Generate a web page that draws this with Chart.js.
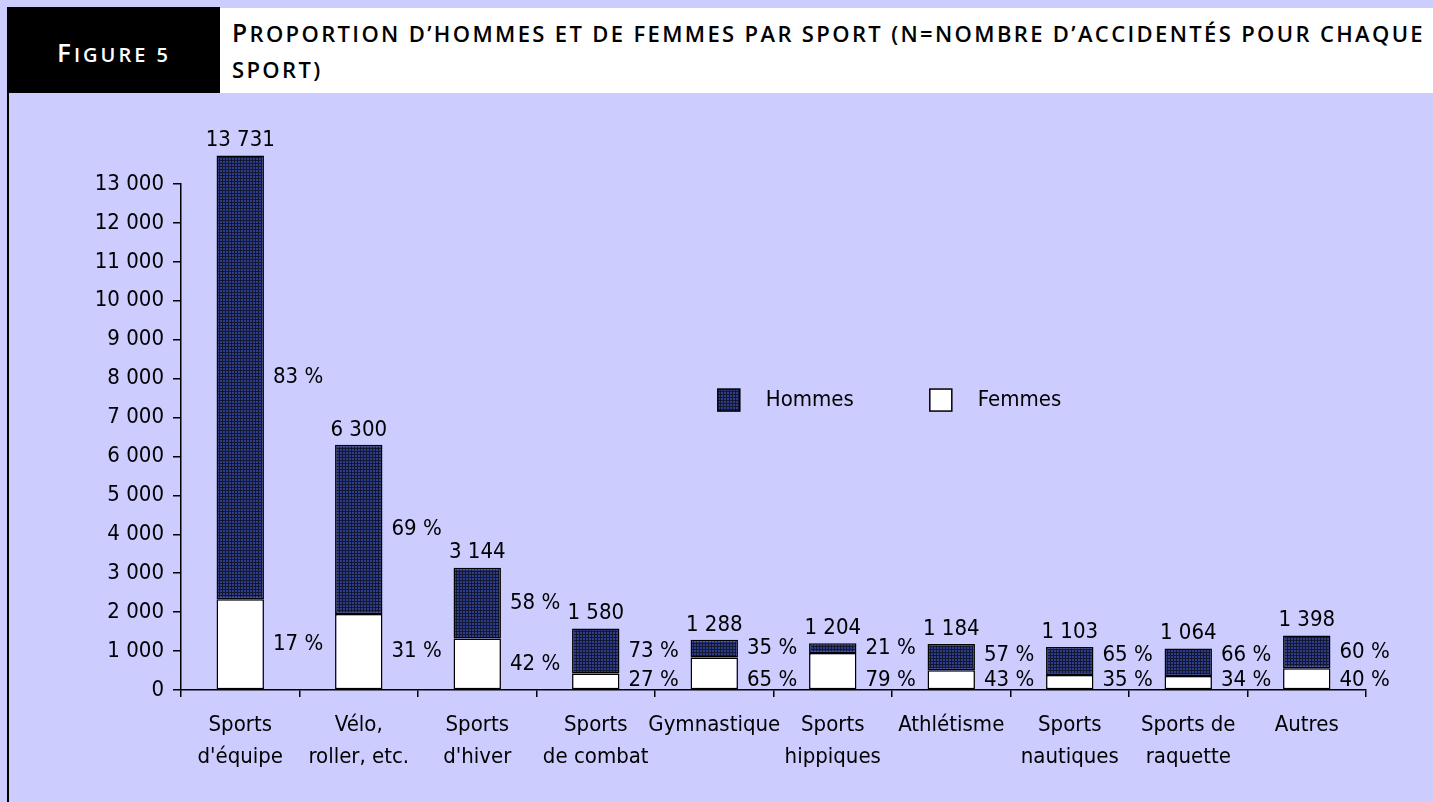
<!DOCTYPE html>
<html>
<head>
<meta charset="utf-8">
<script src="https://cdn.jsdelivr.net/npm/chart.js@4"></script>
<style>
  body { margin: 0; width: 1433px; height: 802px; overflow: hidden; position: relative; background: #ccccff; }
  #figure { position: absolute; left: 7px; top: 7px; width: 213px; height: 86px; background: #000; color: #fff;
            font-family: 'Open Sans', sans-serif; font-weight: 600; text-transform: uppercase; font-size: 20px; }
  #figure span.line { position: absolute; left: 50px; top: 31px; white-space: nowrap; line-height: 28px; }
  #figure .big { font-size: 1.3em; }
  #title { position: absolute; left: 220px; top: 8px; right: 0; height: 85px; background: #fff; color: #000;
           font-family: 'Open Sans', sans-serif; font-weight: 600; text-transform: uppercase; font-size: 22px; }
  #title span.line { position: absolute; left: 12px; white-space: nowrap; line-height: 30px; }
  #title .big { font-size: 1.12em; }
  #rule { position: absolute; left: 7px; top: 93px; width: 2px; height: 709px; background: #000; }
  #wrap { position: absolute; left: 9px; top: 94px; width: 1424px; height: 708px; }
</style>
</head>
<body>
<div id="figure"><span class="line" id="f1"><span class="big">F</span>igure 5</span></div>
<div id="title">
  <span class="line" id="t1" style="top:10px"><span class="big">P</span>roportion d’hommes et de femmes par sport (n=nombre d’accidentés pour chaque</span>
  <span class="line" id="t2" style="top:46px">sport)</span>
</div>
<div id="rule"></div>
<div id="wrap"><canvas id="chart"></canvas></div>
<script>
// données
const categories = [
    ['Sports', "d'équipe"], ['Vélo,', 'roller, etc.'], ['Sports', "d'hiver"], ['Sports', 'de combat'],
    'Gymnastique', ['Sports', 'hippiques'], 'Athlétisme', ['Sports', 'nautiques'], ['Sports de', 'raquette'], 'Autres'
];
const totals = [13731, 6300, 3144, 1580, 1288, 1204, 1184, 1103, 1064, 1398];
const pctHommes = [83, 69, 58, 73, 35, 21, 57, 65, 66, 60];
const pctFemmes = [17, 31, 42, 27, 65, 79, 43, 35, 34, 40];
const femmes = totals.map((t, i) => Math.round(t * pctFemmes[i] / 100));
const hommes = totals.map((t, i) => t - femmes[i]);

const FONT = "'DejaVu Sans Condensed', 'Liberation Sans Narrow', sans-serif";
const FSIZE = 22;
const fmt = v => String(v).replace(/\B(?=(\d{3})+(?!\d))/g, ' ');

// ajuste l'espacement des lettres pour retrouver la largeur de l'original
function fitWidth(el, target) {
    el.style.letterSpacing = '0px';
    const w = el.getBoundingClientRect().width;
    const n = el.textContent.length;
    el.style.letterSpacing = ((target - w) / n) + 'px';
}

document.addEventListener('DOMContentLoaded', function() {
    fitWidth(document.getElementById('t1'), 1193);
    fitWidth(document.getElementById('f1'), 114);
    document.getElementById('t2').style.letterSpacing = document.getElementById('t1').style.letterSpacing;

    const canvas = document.getElementById('chart');
    const ctx = canvas.getContext('2d');

    // trame sombre des barres "Hommes"
    function makePattern() {
        const c = document.createElement('canvas');
        c.width = 3; c.height = 3;
        const g = c.getContext('2d');
        g.fillStyle = '#13172f';
        g.fillRect(0, 0, 3, 3);
        g.fillStyle = '#2e3c8c';
        g.fillRect(1, 1, 2, 2);
        return ctx.createPattern(c, 'repeat');
    }
    const hommesFill = makePattern();

    const barLabels = {
        id: 'barLabels',
        afterDatasetsDraw(chart) {
            const c = chart.ctx;
            const fem = chart.getDatasetMeta(0);
            const hom = chart.getDatasetMeta(1);
            const zero = chart.scales.y.getPixelForValue(0);
            c.save();
            c.font = FSIZE + 'px ' + FONT;
            c.fillStyle = '#000';
            totals.forEach(function(t, i) {
                const fb = fem.data[i].getProps(['x', 'y', 'base', 'width'], true);
                const hb = hom.data[i].getProps(['x', 'y', 'base', 'width'], true);
                c.textAlign = 'center';
                c.textBaseline = 'bottom';
                c.fillText(fmt(t), hb.x, hb.y - 4);

                const left = hb.x + hb.width / 2 + 9;
                const femH = fb.base - fb.y;
                const femY = femH >= 40 ? (fb.y + fb.base) / 2 : zero - 10;
                const homY = Math.min((hb.y + hb.base) / 2, femY - 25);
                c.textAlign = 'left';
                c.textBaseline = 'middle';
                c.fillText(pctHommes[i] + ' %', left, homY);
                c.fillText(pctFemmes[i] + ' %', left, femY);
            });
            c.restore();
        }
    };

    const legendBoxes = {
        id: 'legendBoxes',
        afterDraw(chart) {
            const c = chart.ctx;
            const a = chart.chartArea;
            const items = [chart.data.datasets[1], chart.data.datasets[0]];
            const x0 = a.left + (a.right - a.left) * 0.453;
            const yc = a.top + (a.bottom - a.top) * 0.427;
            c.save();
            c.font = FSIZE + 'px ' + FONT;
            c.textBaseline = 'middle';
            c.textAlign = 'left';
            items.forEach(function(ds, k) {
                const x = x0 + k * 212;
                c.fillStyle = ds.backgroundColor;
                c.fillRect(x, yc - 11, 22, 22);
                c.strokeStyle = '#000';
                c.lineWidth = 1.5;
                c.strokeRect(x, yc - 11, 22, 22);
                c.fillStyle = '#000';
                c.fillText(ds.label, x + 48, yc);
            });
            c.restore();
        }
    };

    new Chart(ctx, {
        type: 'bar',
        data: {
            labels: categories,
            datasets: [
                { label: 'Femmes', data: femmes, backgroundColor: '#ffffff', borderColor: '#000', borderWidth: 1.5, borderSkipped: false, clip: false },
                { label: 'Hommes', data: hommes, backgroundColor: hommesFill, borderColor: '#000', borderWidth: 1.5, borderSkipped: false, clip: false }
            ]
        },
        options: {
            responsive: true,
            maintainAspectRatio: false,
            animation: false,
            layout: { padding: { top: 90, right: 67, left: 0, bottom: 0 } },
            datasets: { bar: { categoryPercentage: 1, barPercentage: 0.4 } },
            plugins: { legend: { display: false }, tooltip: { enabled: false } },
            scales: {
                x: {
                    stacked: true,
                    afterFit: function(s) { s.height = 112; },
                    border: { display: true, color: '#000', width: 1.5 },
                    grid: { display: true, drawOnChartArea: false, drawTicks: true, tickLength: 7, color: '#000', lineWidth: 1.5, offset: true },
                    ticks: { color: '#000', padding: 12, maxRotation: 0, autoSkip: false, font: { family: FONT, size: FSIZE, lineHeight: '32px' } }
                },
                y: {
                    stacked: true,
                    min: 0,
                    max: 13000,
                    afterFit: function(s) { s.width = 172; },
                    border: { display: true, color: '#000', width: 1.5 },
                    grid: { display: true, drawOnChartArea: false, drawTicks: true, tickLength: 8, color: '#000', lineWidth: 1.5 },
                    ticks: { stepSize: 1000, color: '#000', padding: 9, font: { family: FONT, size: FSIZE }, callback: v => fmt(v) }
                }
            }
        },
        plugins: [barLabels, legendBoxes]
    });
});
</script>
</body>
</html>
